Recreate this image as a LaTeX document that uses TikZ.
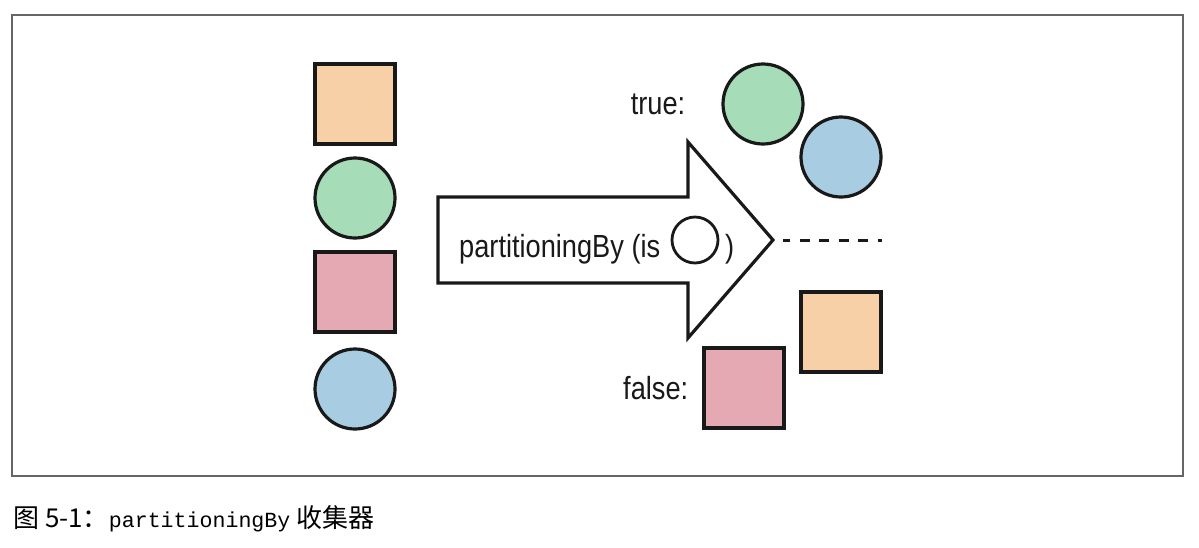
\documentclass[tikz,border=0pt]{standalone}
\usepackage{fontspec}
\setmainfont{Liberation Sans}[FakeStretch=0.85]
\setmonofont{Liberation Mono}
\newfontfamily\cjk{Noto Sans CJK SC}
\usetikzlibrary{positioning}

\definecolor{peach}{HTML}{F8D0A8}
\definecolor{mint}{HTML}{A6DDB8}
\definecolor{rose}{HTML}{E5A9B4}
\definecolor{sky}{HTML}{A8CDE2}

\begin{document}
\begin{tikzpicture}[x=1pt, y=-1pt,
        shp/.style={draw=black!90, line width=3.2pt},
        sq/.style={shp, rectangle, minimum size=80pt, inner sep=0pt},
        ball/.style={shp, circle, minimum size=80pt, inner sep=0pt},
        lbl/.style={inner sep=0pt, font=\fontsize{32}{36}\selectfont, text=black!90},
        node distance=30pt]
      \useasboundingbox (0,0) rectangle (1199,547);
      \draw[black!60, line width=1.2pt] (12,15) rectangle (1183,476);
      % input stream
      \node[sq, fill=peach] (inA) at (355,104) {};
      \node[ball, fill=mint] (inB) at (355,198) {};
      \node[sq, fill=rose] (inC) at (355,292) {};
      \node[ball, fill=sky] (inD) at (355,389) {};
      % the collector
      \coordinate (tip) at (773,240);
      \draw[shp, line join=miter] (438,197) -- (688,197) -- (688,142) -- (tip)
            -- (688,338) -- (688,283) -- (438,283) -- cycle;
      \node[lbl, anchor=base west] (fn) at (459,257) {partitioningBy (is};
      \node[draw=black!90, circle, line width=2.8pt, minimum size=46pt, inner sep=0pt] (pred) at (695,240) {};
      \node[lbl, anchor=base west] (close) at (725,257) {)};
      \coordinate (dashend) at (882,240);
      \draw[black!90, line width=3pt, dash pattern=on 10pt off 9.5pt, dash phase=3pt] ([xshift=10pt]tip) -- (dashend);
      % partitions
      \node[ball, fill=mint] (outT1) at (763,104) {};
      \node[ball, fill=sky] (outT2) at (841,157) {};
      \node[sq, fill=peach] (outF2) at (841,332) {};
      \node[sq, fill=rose] (outF1) at (744,388) {};
      \node[lbl, left=36pt of outT1] (tlbl) {true:};
      \node[lbl, left=14pt of outF1] (flbl) {false:};
      % caption
      \node[anchor=base west, inner sep=0pt, font=\fontsize{26}{30}\selectfont] (cap) at (13,527)
            {{\cjk 图 5-1：}{\ttfamily\fontsize{21.6}{30}\selectfont partitioningBy} {\cjk 收集器}};
    \end{tikzpicture}
\end{document}
